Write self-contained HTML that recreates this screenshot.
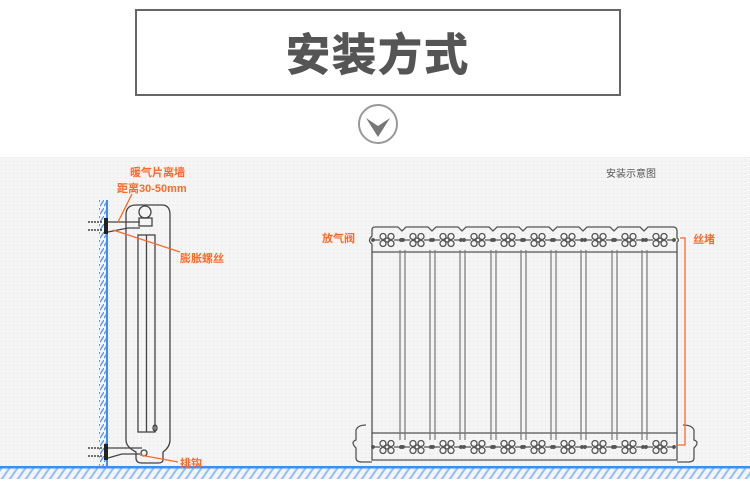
<!DOCTYPE html>
<html><head><meta charset="utf-8"><style>
body{margin:0;width:750px;height:498px;background:#fff;overflow:hidden;font-family:"Liberation Sans","Noto Sans CJK SC",sans-serif}
</style></head><body>
<svg width="750" height="498" viewBox="0 0 750 498" xmlns="http://www.w3.org/2000/svg" font-family="Liberation Sans, Noto Sans CJK SC, sans-serif">
<defs>
<pattern id="dots" width="4" height="4" patternUnits="userSpaceOnUse"><rect width="4" height="4" fill="#f5f5f5"/><rect x="1" y="1" width="1" height="1" fill="#e2e2e2"/></pattern>
<pattern id="hatch" width="8" height="12" patternUnits="userSpaceOnUse" patternTransform="skewX(-35)"><rect x="0" y="0" width="2.5" height="12" fill="#8fc0ff"/></pattern>
<pattern id="whatch" width="4" height="8" patternUnits="userSpaceOnUse"><path d="M4 0 L0 6" stroke="#4a90ff" stroke-width="1.2"/></pattern>
<g id="flw" fill="none" stroke="#555" stroke-width="1.3">
<circle cx="-4" cy="-3.5" r="3"/><circle cx="4" cy="-3.5" r="3"/><circle cx="-4" cy="3.5" r="3"/><circle cx="4" cy="3.5" r="3"/><circle cx="0" cy="0" r="2"/>
<path d="M-13 0 H-7 M7 0 H13"/><circle cx="-14" cy="0" r="1.3" fill="#555"/><circle cx="14" cy="0" r="1.3" fill="#555"/>
</g>
</defs>
<rect x="136" y="10" width="484" height="85" fill="#fff" stroke="#666" stroke-width="2"/>
<text x="378" y="70" text-anchor="middle" font-size="44" font-weight="bold" fill="#555" stroke="#555" stroke-width="1" letter-spacing="2">安装方式</text>
<circle cx="378" cy="124" r="19" fill="#fff" stroke="#999" stroke-width="2"/>
<path d="M366 118 L378 137 L390 118 L378 126 Z" fill="#777"/>
<rect x="0" y="157" width="750" height="322" fill="url(#dots)"/>
<rect x="0" y="467" width="750" height="12" fill="url(#hatch)"/>
<rect x="0" y="466" width="750" height="2.5" fill="#3d8df5"/>
<rect x="99" y="200" width="8" height="266" fill="url(#whatch)"/>
<rect x="106" y="200" width="2" height="268" fill="#3d8df5"/>
<text x="606" y="177" font-size="10" fill="#555">安装示意图</text>
<g fill="none" stroke="#444" stroke-width="1.3">
<path d="M126 440 V215 Q126 205 136 205 H162 Q170 205 170 215 V440 Q170 447 163 452 V460 Q163 463 158 463 H142 Q136 463 136 458 V452 Q126 447 126 440 Z"/>
<rect x="138" y="235" width="17" height="197"/><line x1="146.5" y1="235" x2="146.5" y2="432"/>
<circle cx="145" cy="212" r="6"/>
<rect x="139" y="218" width="13" height="8"/>
<path d="M108 222 H140 M108 232 L128 228 H140"/>
<path d="M108 448 H142 M108 458 L122 454 H140"/>
<circle cx="144" cy="453" r="3"/>
<ellipse cx="155" cy="428" rx="2" ry="3"/>
</g>
<g fill="#222"><rect x="104" y="218" width="4" height="16"/><rect x="104" y="444" width="4" height="16"/></g>
<g stroke="#222" stroke-width="1.2" stroke-dasharray="2 1"><path d="M88 222 H103 M88 230 H103 M88 448 H103 M88 456 H103"/></g>
<g stroke="#ff6a2a" stroke-width="1.3" fill="none"><path d="M118 222 L132 194"/><path d="M113 230 L180 252"/><path d="M140 455 L178 462"/></g>
<g fill="#ff6a2a" font-size="11" font-weight="bold">
<text x="130" y="176">暖气片离墙</text>
<text x="117" y="192">距离30-50mm</text>
<text x="180" y="262">膨胀螺丝</text>
<text x="180" y="467">排钩</text>
<text x="322" y="242">放气阀</text>
<text x="693" y="243">丝堵</text>
</g>
<g fill="none" stroke="#555" stroke-width="1.3">
<path d="M372 230 Q372 227 375 227 H398 L402 231 L406 227 H428 L432 231 L436 227 H458 L462 231 L466 227 H489 L493 231 L497 227 H519 L523 231 L527 227 H549 L553 231 L557 227 H579 L583 231 L587 227 H610 L614 231 L618 227 H640 L644 231 L648 227 H673 Q677 227 677 231 V238 Q680 240 677 242 V252 H372 V244 Q367 241 372 236 Z"/>
<path d="M372 252 V433 M677 252 V433"/>
<path d="M372 433 H677 V460 H372 Z"/>
<path d="M366 425 Q358 425 356 430 V440 Q350 442 356 448 V458 Q356 462 362 462 H372 M683 425 Q692 425 694 430 V440 Q700 442 694 448 V458 Q694 462 688 462 H677"/>
</g>
<g fill="none" stroke="#777" stroke-width="1.2">
<path d="M400 250 V440 M405 250 V440 M430 250 V440 M435 250 V440 M460 250 V440 M465 250 V440 M491 250 V440 M496 250 V440 M521 250 V440 M526 250 V440 M551 250 V440 M556 250 V440 M581 250 V440 M586 250 V440 M612 250 V440 M617 250 V440 M642 250 V440 M647 250 V440"/>
</g>
<g>
<use href="#flw" x="387" y="240"/><use href="#flw" x="417" y="240"/><use href="#flw" x="447" y="240"/><use href="#flw" x="478" y="240"/><use href="#flw" x="508" y="240"/><use href="#flw" x="538" y="240"/><use href="#flw" x="568" y="240"/><use href="#flw" x="599" y="240"/><use href="#flw" x="629" y="240"/><use href="#flw" x="660" y="240"/>
<use href="#flw" x="387" y="447"/><use href="#flw" x="417" y="447"/><use href="#flw" x="447" y="447"/><use href="#flw" x="478" y="447"/><use href="#flw" x="508" y="447"/><use href="#flw" x="538" y="447"/><use href="#flw" x="568" y="447"/><use href="#flw" x="599" y="447"/><use href="#flw" x="629" y="447"/><use href="#flw" x="660" y="447"/>
</g>
<path d="M680 238 H685 V445 H678" fill="none" stroke="#ff6a2a" stroke-width="1.3"/>
</svg>
</body></html>
